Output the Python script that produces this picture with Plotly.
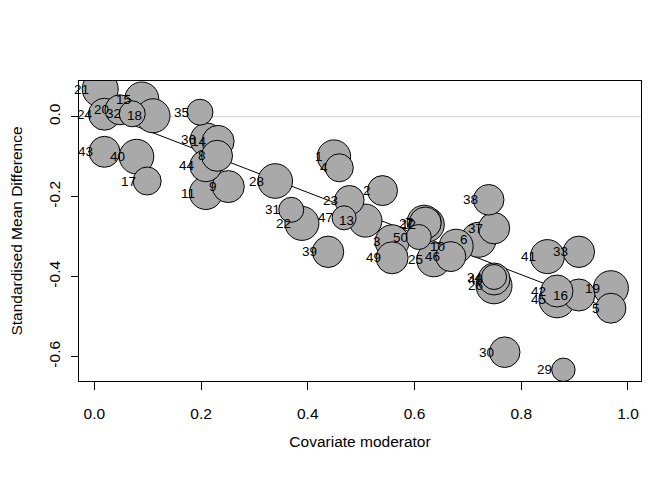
import plotly.graph_objects as go

# study labels, moderator values, standardised mean differences, bubble radii (px)
study = [str(i) for i in range(1, 51)]
moderator = [0.449, 0.54, 0.558, 0.459, 0.968, 0.72, 0.618, 0.23, 0.251, 0.678,
             0.209, 0.623, 0.508, 0.232, 0.089, 0.908, 0.099, 0.11, 0.968, 0.048,
             0.011, 0.389, 0.478, 0.019, 0.636, 0.749, 0.62, 0.339, 0.879, 0.769,
             0.369, 0.071, 0.908, 0.749, 0.198, 0.211, 0.749, 0.739, 0.438, 0.079,
             0.849, 0.867, 0.019, 0.209, 0.867, 0.668, 0.468, 0.749, 0.558, 0.608]
smd = [-0.100, -0.185, -0.313, -0.128, -0.479, -0.308, -0.264, -0.098, -0.175, -0.324,
       -0.191, -0.270, -0.260, -0.062, 0.044, -0.446, -0.161, 0.002, -0.429, 0.017,
       0.069, -0.267, -0.209, 0.006, -0.358, -0.423, -0.266, -0.161, -0.633, -0.589,
       -0.233, 0.007, -0.338, -0.401, 0.011, -0.058, -0.279, -0.208, -0.338, -0.100,
       -0.350, -0.436, -0.088, -0.123, -0.458, -0.350, -0.253, -0.406, -0.353, -0.301]
radius = [16.7, 15, 17, 14, 15, 17.5, 17, 15.5, 16, 17,
          16.5, 17.5, 16.5, 16, 17, 16, 14, 17, 17.5, 15,
          18, 17, 14.7, 16, 17, 18, 16, 17.3, 11.7, 15.3,
          12.5, 13, 15.7, 12.5, 13, 16.7, 15.7, 15.3, 15.7, 17.3,
          17, 16, 15.5, 16, 18, 15, 12, 16, 16, 12.5]

# fitted meta-regression line
intercept = 0.016
slope = -0.514

x_ticks = [0.0, 0.2, 0.4, 0.6, 0.8, 1.0]
y_ticks = [-0.6, -0.4, -0.2, 0.0]

font = "Liberation Sans, Arial, sans-serif"

order = sorted(range(len(study)), key=lambda i: -radius[i])

fig = go.Figure()

x_line = [min(moderator), max(moderator)]
fig.add_trace(go.Scatter(x=x_line, y=[intercept + slope * v for v in x_line],
                         mode="lines", line=dict(color="black", width=1),
                         hoverinfo="skip"))

fig.add_trace(go.Scatter(
    x=[moderator[i] for i in order],
    y=[smd[i] for i in order],
    mode="markers",
    marker=dict(size=[2 * radius[i] for i in order], sizemode="diameter",
                color="darkgray", opacity=1,
                line=dict(color="black", width=1)),
    text=[study[i] for i in order],
))

for i in range(len(study)):
    fig.add_annotation(x=moderator[i], y=smd[i], text=study[i], showarrow=False,
                       xanchor="right", yanchor="middle", xshift=-9,
                       font=dict(size=13.5, color="black", family=font))

fig.add_shape(type="line", xref="paper", x0=0, x1=1, y0=0, y1=0,
              line=dict(color="#d3d3d3", width=1), layer="below")

# the page body adds 8px around the figure
fig.update_layout(
    width=656, height=464,
    margin=dict(l=71, r=23, t=73, b=91),
    paper_bgcolor="white", plot_bgcolor="white",
    showlegend=False,
    font=dict(family=font, size=15.5, color="black"),
    xaxis=dict(range=[-0.0287, 1.0244], tickvals=x_ticks,
               ticktext=["%.1f" % v for v in x_ticks], automargin=False,
               showgrid=False, zeroline=False, showline=True, mirror=True,
               linecolor="black", linewidth=1, ticks="outside", ticklen=8,
               tickcolor="black", ticklabelstandoff=10, tickfont=dict(size=15.5),
               title=dict(text="Covariate moderator", standoff=15,
                          font=dict(size=15.5))),
    yaxis=dict(range=[-0.661, 0.089], tickvals=y_ticks,
               ticktext=["%.1f" % v for v in y_ticks], tickangle=-90,
               automargin=False,
               showgrid=False, zeroline=False, showline=True, mirror=True,
               linecolor="black", linewidth=1, ticks="outside", ticklen=7,
               tickcolor="black", ticklabelstandoff=5, tickfont=dict(size=15.5),
               title=dict(text="Standardised Mean Difference", standoff=31,
                          font=dict(size=15.5))),
)

fig.write_html("out.html")
